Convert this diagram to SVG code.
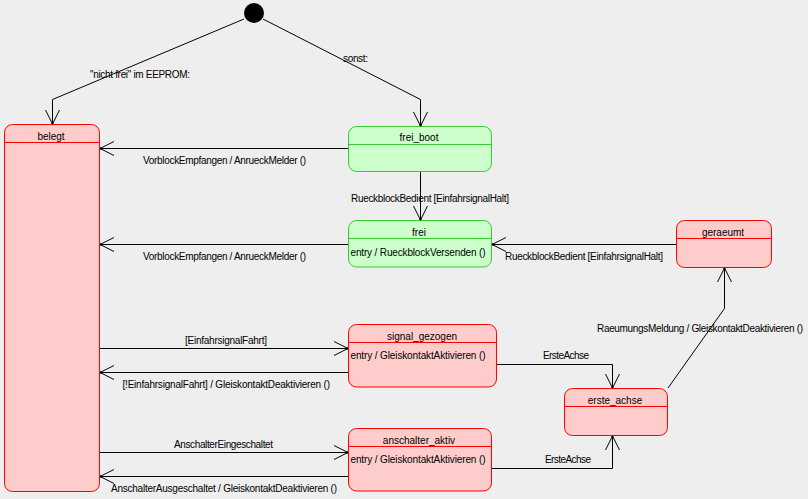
<svg xmlns="http://www.w3.org/2000/svg" width="808" height="499" viewBox="0 0 808 499">
<style>
text{font-family:"Liberation Sans",Arial,sans-serif;font-size:10px;fill:#000}
.r rect{fill:#ffcccc;stroke:#ff0000;stroke-width:1}
.r line{stroke:#ff0000;stroke-width:1}
.g rect{fill:#ccffcc;stroke:#33cc33;stroke-width:1}
.g line{stroke:#33cc33;stroke-width:1}
.n{text-anchor:middle}
#edges path{fill:none;stroke:#000;stroke-width:1;marker-end:url(#arr)}
</style>
<defs>
<marker id="arr" markerUnits="userSpaceOnUse" viewBox="-16 -9 18 18" refX="0" refY="0" markerWidth="18" markerHeight="18" orient="auto" overflow="visible">
<path d="M-14,-7 L0,0 L-14,7" fill="none" stroke="#000" stroke-width="1"/>
<circle cx="-1" cy="0" r="1.2" fill="#000"/>
</marker>
</defs>
<rect width="808" height="499" fill="#eeeeee"/>
<g id="initial"><circle cx="254" cy="13" r="10" fill="#000"/></g>
<g id="belegt" class="r"><rect x="4.5" y="124.5" width="95" height="367" rx="8"/><line x1="4.5" y1="142.5" x2="99.5" y2="142.5"/><text class="n" x="51" y="140">belegt</text></g>
<g id="frei_boot" class="g"><rect x="348.5" y="126.5" width="143" height="45" rx="8"/><line x1="348.5" y1="144.5" x2="491.5" y2="144.5"/><text class="n" x="419" y="141">frei_boot</text></g>
<g id="frei" class="g"><rect x="348.5" y="220.5" width="143" height="46.5" rx="8"/><line x1="348.5" y1="238.5" x2="491.5" y2="238.5"/><text class="n" x="419" y="236">frei</text><text x="350.5" y="256" textLength="135">entry / RueckblockVersenden ()</text></g>
<g id="signal_gezogen" class="r"><rect x="348.5" y="324.5" width="148" height="62.5" rx="8"/><line x1="348.5" y1="342.5" x2="496.5" y2="342.5"/><text class="n" x="422" y="340">signal_gezogen</text><text x="350.5" y="359" textLength="135">entry / GleiskontaktAktivieren ()</text></g>
<g id="anschalter_aktiv" class="r"><rect x="348.5" y="428.5" width="143" height="62.5" rx="8"/><line x1="348.5" y1="446.5" x2="491.5" y2="446.5"/><text class="n" x="419" y="444">anschalter_aktiv</text><text x="350.5" y="463" textLength="135">entry / GleiskontaktAktivieren ()</text></g>
<g id="geraeumt" class="r"><rect x="676.5" y="220.5" width="95" height="47" rx="8"/><line x1="676.5" y1="238.5" x2="771.5" y2="238.5"/><text class="n" x="723" y="236">geraeumt</text></g>
<g id="erste_achse" class="r"><rect x="564.5" y="388.5" width="103" height="47" rx="8"/><line x1="564.5" y1="406.5" x2="667.5" y2="406.5"/><text class="n" x="615" y="404">erste_achse</text></g>
<g id="edges">
<path d="M244,19 L52.5,99.5 L52.5,124"/>
<path d="M263,19 L420.5,99.5 L420.5,126"/>
<path d="M348,148.5 L100,148.5"/>
<path d="M348,244.5 L100,244.5"/>
<path d="M420.5,172 L420.5,220"/>
<path d="M676,244.5 L492,244.5"/>
<path d="M100,348.5 L348,348.5"/>
<path d="M348,372.5 L100,372.5"/>
<path d="M100,452.5 L348,452.5"/>
<path d="M348,476.5 L100,476.5"/>
<path d="M497,364.5 L612.5,364.5 L612.5,388"/>
<path d="M492,468.5 L612.5,468.5 L612.5,436"/>
<path d="M668,388 L724.5,308.5 L724.5,268"/>
</g>
<g id="labels">
<text x="90" y="78" textLength="100">"nicht frei" im EEPROM:</text>
<text x="343" y="62" textLength="25">sonst:</text>
<text x="143" y="164" textLength="163">VorblockEmpfangen / AnrueckMelder ()</text>
<text x="143" y="260" textLength="163">VorblockEmpfangen / AnrueckMelder ()</text>
<text x="351" y="202" textLength="158">RueckblockBedient [EinfahrsignalHalt]</text>
<text x="505" y="260" textLength="158">RueckblockBedient [EinfahrsignalHalt]</text>
<text x="185" y="344" textLength="82">[EinfahrsignalFahrt]</text>
<text x="122.5" y="388" textLength="207.5">[!EinfahrsignalFahrt] / GleiskontaktDeaktivieren ()</text>
<text x="174" y="448" textLength="99">AnschalterEingeschaltet</text>
<text x="111" y="492" textLength="226">AnschalterAusgeschaltet / GleiskontaktDeaktivieren ()</text>
<text x="543" y="359" textLength="46">ErsteAchse</text>
<text x="545" y="463" textLength="46">ErsteAchse</text>
<text x="597" y="332" textLength="206">RaeumungsMeldung / GleiskontaktDeaktivieren ()</text>
</g>
</svg>
